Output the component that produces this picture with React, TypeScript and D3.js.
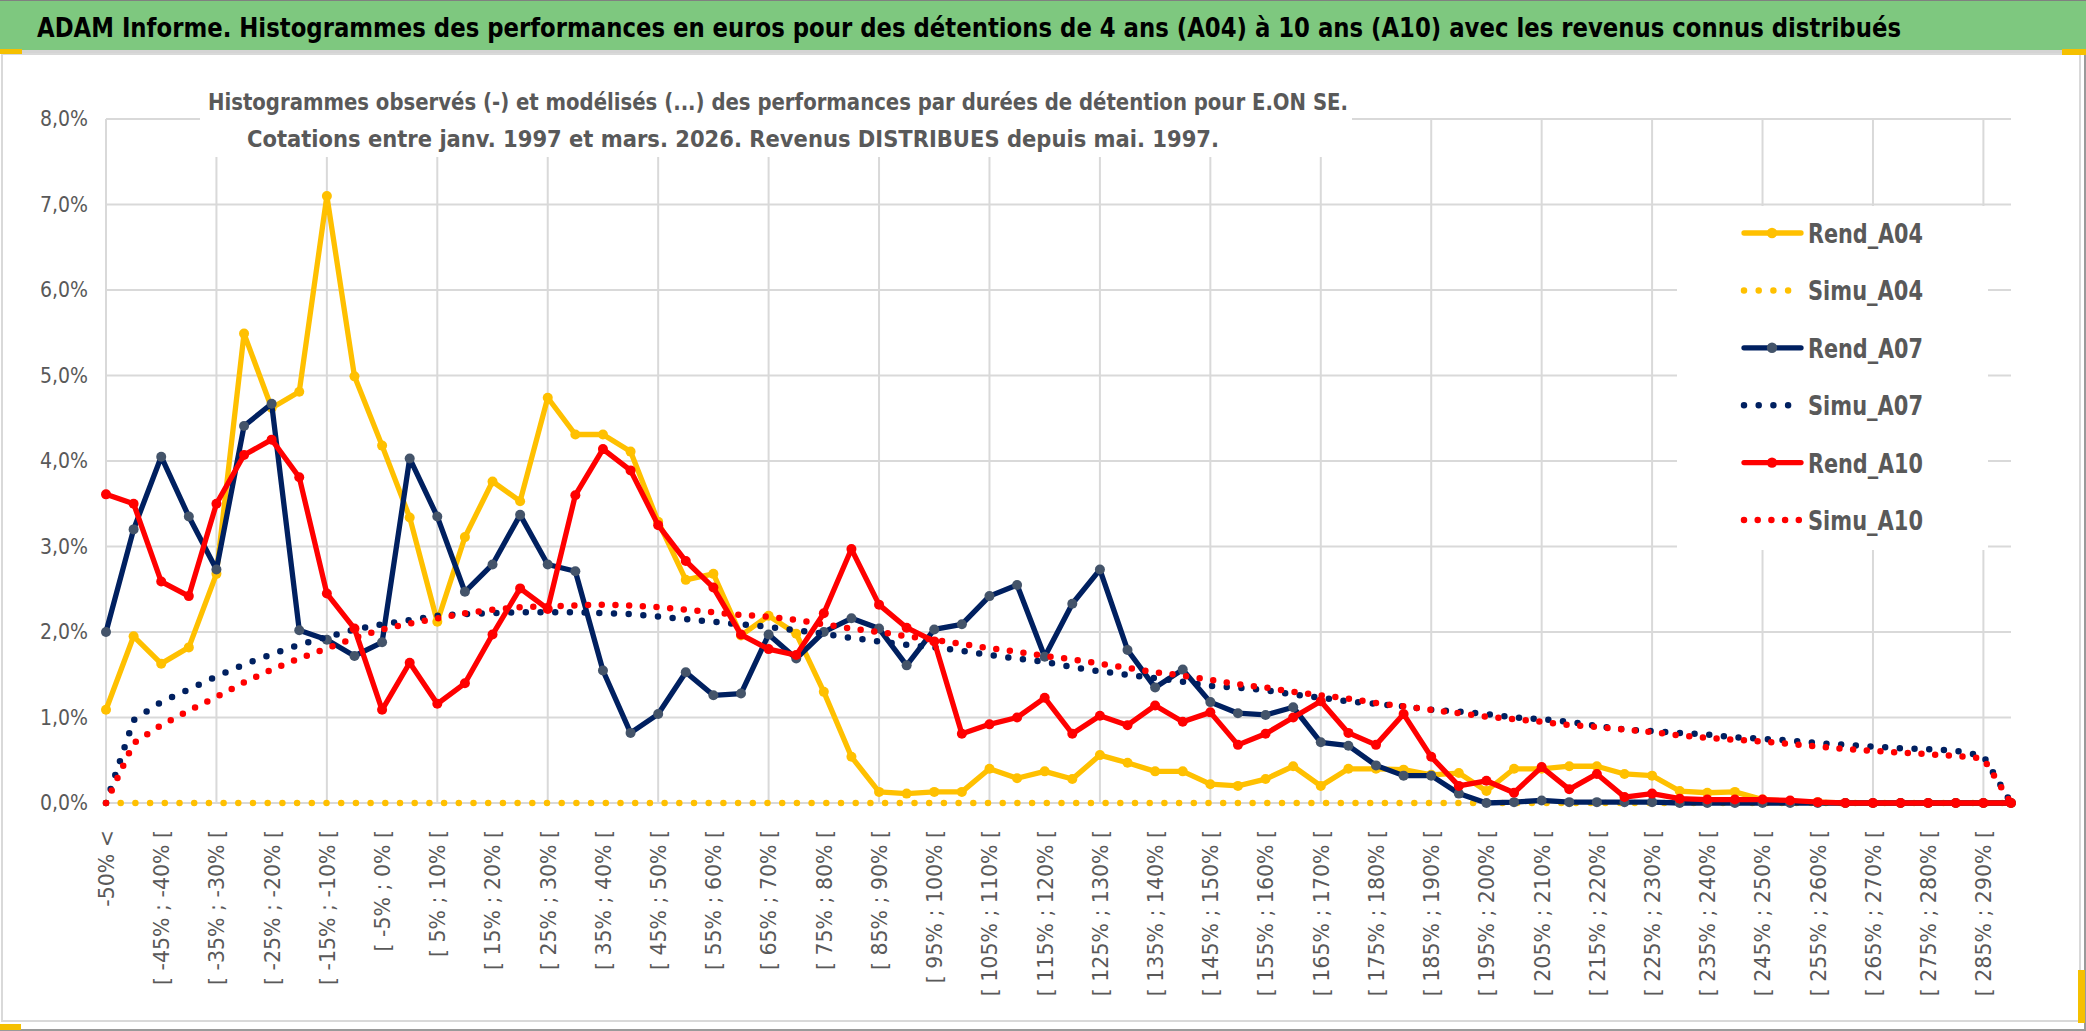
import React, { useRef, useEffect } from "react";
import * as d3 from "d3";

const categories = [
  "-50% <", "[ -50% ; -45% [", "[ -45% ; -40% [", "[ -40% ; -35% [", "[ -35% ; -30% [",
  "[ -30% ; -25% [", "[ -25% ; -20% [", "[ -20% ; -15% [", "[ -15% ; -10% [", "[ -10% ; -5% [",
  "[ -5% ; 0% [", "[ 0% ; 5% [", "[ 5% ; 10% [", "[ 10% ; 15% [", "[ 15% ; 20% [",
  "[ 20% ; 25% [", "[ 25% ; 30% [", "[ 30% ; 35% [", "[ 35% ; 40% [", "[ 40% ; 45% [",
  "[ 45% ; 50% [", "[ 50% ; 55% [", "[ 55% ; 60% [", "[ 60% ; 65% [", "[ 65% ; 70% [",
  "[ 70% ; 75% [", "[ 75% ; 80% [", "[ 80% ; 85% [", "[ 85% ; 90% [", "[ 90% ; 95% [",
  "[ 95% ; 100% [", "[ 100% ; 105% [", "[ 105% ; 110% [", "[ 110% ; 115% [", "[ 115% ; 120% [",
  "[ 120% ; 125% [", "[ 125% ; 130% [", "[ 130% ; 135% [", "[ 135% ; 140% [", "[ 140% ; 145% [",
  "[ 145% ; 150% [", "[ 150% ; 155% [", "[ 155% ; 160% [", "[ 160% ; 165% [", "[ 165% ; 170% [",
  "[ 170% ; 175% [", "[ 175% ; 180% [", "[ 180% ; 185% [", "[ 185% ; 190% [", "[ 190% ; 195% [",
  "[ 195% ; 200% [", "[ 200% ; 205% [", "[ 205% ; 210% [", "[ 210% ; 215% [", "[ 215% ; 220% [",
  "[ 220% ; 225% [", "[ 225% ; 230% [", "[ 230% ; 235% [", "[ 235% ; 240% [", "[ 240% ; 245% [",
  "[ 245% ; 250% [", "[ 250% ; 255% [", "[ 255% ; 260% [", "[ 260% ; 265% [", "[ 265% ; 270% [",
  "[ 270% ; 275% [", "[ 275% ; 280% [", "[ 280% ; 285% [", "[ 285% ; 290% [", "[ 290% ; 295% [",
];

// values in %
const rendA04 = [
  1.09, 1.95, 1.63, 1.82, 2.68, 5.49, 4.62, 4.81, 7.1, 4.99,
  4.18, 3.34, 2.12, 3.11, 3.76, 3.53, 4.74, 4.31, 4.31, 4.11,
  3.29, 2.61, 2.68, 1.96, 2.19, 1.98, 1.3, 0.54, 0.13, 0.11,
  0.13, 0.13, 0.4, 0.29, 0.37, 0.28, 0.56, 0.47, 0.37, 0.37,
  0.22, 0.2, 0.28, 0.43, 0.2, 0.4, 0.4, 0.39, 0.33, 0.35,
  0.14, 0.4, 0.4, 0.43, 0.43, 0.34, 0.32, 0.14, 0.12, 0.13,
  0.04, 0.02, 0.01, 0, 0, 0, 0, 0, 0, 0,
];
const simuA04 = [
  0, 0, 0, 0, 0, 0, 0, 0, 0, 0,
  0, 0, 0, 0, 0, 0, 0, 0, 0, 0,
  0, 0, 0, 0, 0, 0, 0, 0, 0, 0,
  0, 0, 0, 0, 0, 0, 0, 0, 0, 0,
  0, 0, 0, 0, 0, 0, 0, 0, 0, 0,
  0, 0, 0, 0, 0, 0, 0, 0, 0, 0,
  0, 0, 0, 0, 0, 0, 0, 0, 0, 0,
];
const rendA07 = [
  2.0, 3.2, 4.05, 3.35, 2.73, 4.41, 4.67, 2.02, 1.91, 1.72,
  1.88, 4.03, 3.35, 2.47, 2.79, 3.37, 2.79, 2.71, 1.55, 0.82,
  1.04, 1.53, 1.26, 1.28, 1.97, 1.69, 2.0, 2.16, 2.04, 1.61,
  2.03, 2.09, 2.42, 2.55, 1.71, 2.33, 2.73, 1.79, 1.35, 1.56,
  1.18, 1.05, 1.03, 1.12, 0.71, 0.67, 0.44, 0.32, 0.32, 0.11,
  0.0, 0.01, 0.03, 0.01, 0.01, 0.01, 0.01, 0, 0, 0,
  0, 0, 0, 0, 0, 0, 0, 0, 0, 0,
];
const simuA07 = [
  0, 0.97, 1.18, 1.33, 1.48, 1.62, 1.74, 1.85, 1.94, 2.03,
  2.09, 2.14, 2.19, 2.21, 2.22, 2.23, 2.23, 2.23, 2.22, 2.21,
  2.18, 2.15, 2.12, 2.09, 2.06, 2.02, 1.98, 1.93, 1.89, 1.85,
  1.82, 1.78, 1.73, 1.69, 1.65, 1.59, 1.54, 1.5, 1.46, 1.42,
  1.37, 1.35, 1.32, 1.27, 1.23, 1.19, 1.16, 1.13, 1.09, 1.07,
  1.04, 1.0, 0.98, 0.95, 0.9, 0.86, 0.84, 0.82, 0.8, 0.77,
  0.75, 0.73, 0.7, 0.68, 0.66, 0.64, 0.63, 0.61, 0.55, 0,
];
const rendA10 = [
  3.61, 3.5, 2.59, 2.42, 3.5, 4.07, 4.25, 3.81, 2.45, 2.04,
  1.09, 1.64, 1.16, 1.4, 1.97, 2.51, 2.27, 3.6, 4.14, 3.89,
  3.25, 2.83, 2.52, 1.97, 1.8, 1.73, 2.22, 2.97, 2.32, 2.05,
  1.89, 0.81, 0.92, 1.0, 1.23, 0.81, 1.02, 0.91, 1.14, 0.95,
  1.06, 0.68, 0.81, 1.0, 1.19, 0.82, 0.68, 1.04, 0.54, 0.2,
  0.26, 0.12, 0.42, 0.16, 0.34, 0.07, 0.11, 0.05, 0.04, 0.04,
  0.04, 0.03, 0.01, 0, 0, 0, 0, 0, 0, 0,
];
const simuA10 = [
  0, 0.7, 0.91, 1.08, 1.24, 1.41, 1.56, 1.69, 1.81, 1.93,
  2.03, 2.1, 2.16, 2.22, 2.26, 2.29, 2.3, 2.31, 2.32, 2.31,
  2.29, 2.26, 2.23, 2.2, 2.18, 2.14, 2.09, 2.04, 2.0, 1.95,
  1.91, 1.86, 1.81, 1.77, 1.72, 1.68, 1.63, 1.58, 1.53, 1.49,
  1.44, 1.39, 1.35, 1.3, 1.26, 1.22, 1.17, 1.13, 1.09, 1.05,
  1.01, 0.98, 0.95, 0.91, 0.89, 0.86, 0.83, 0.79, 0.76, 0.74,
  0.72, 0.69, 0.66, 0.63, 0.61, 0.59, 0.57, 0.55, 0.52, 0,
];

const seriesNames = ["Rend_A04", "Simu_A04", "Rend_A07", "Simu_A07", "Rend_A10", "Simu_A10"];
const yTicks = [0, 1, 2, 3, 4, 5, 6, 7, 8];

const title =
  "ADAM Informe. Histogrammes des performances en euros pour des détentions de 4 ans (A04) à 10 ans (A10) avec les revenus connus distribués";
const subtitle = [
  "Histogrammes observés (-) et modélisés (...) des performances par durées de détention pour E.ON SE.",
  "Cotations entre janv. 1997 et mars. 2026. Revenus DISTRIBUES depuis mai. 1997.",
];

const W = 2086;
const H = 1031;
const NARROW = "'Liberation Sans Narrow', 'DejaVu Sans Condensed', 'Liberation Sans', sans-serif";
const WIDE = "'DejaVu Sans', Verdana, sans-serif";
const GRID = "#d9d9d9";
const TXT = "#595959";

const App = () => {
  const ref = useRef(null);

  useEffect(() => {
    const svg = d3.select(ref.current);
    svg.selectAll("*").remove();

    const x = d3.scalePoint().domain(categories).range([106, 2011]);
    const y = d3.scaleLinear().domain([0, 8]).range([803, 119]);

    // frame
    svg.append("rect").attr("width", W).attr("height", H).attr("fill", "#fff");
    svg.append("rect").attr("x", 0).attr("y", 0).attr("width", W).attr("height", 50).attr("fill", "#7ec87f");
    svg.append("line").attr("x1", 0).attr("x2", W).attr("y1", 0.5).attr("y2", 0.5).attr("stroke", "#808080");
    svg.append("line").attr("x1", 0).attr("x2", W).attr("y1", 51.5).attr("y2", 51.5).attr("stroke", "#d4d4d4").attr("stroke-width", 3);
    svg
      .append("rect")
      .attr("x", 2)
      .attr("y", 54)
      .attr("width", 2078)
      .attr("height", 967)
      .attr("fill", "none")
      .attr("stroke", GRID)
      .attr("stroke-width", 2);
    svg.append("line").attr("x1", 2085).attr("x2", 2085).attr("y1", 50).attr("y2", H).attr("stroke", "#9a9a9a").attr("stroke-width", 2);
    svg.append("line").attr("x1", 0).attr("x2", W).attr("y1", 1030).attr("y2", 1030).attr("stroke", "#9a9a9a").attr("stroke-width", 2);
    svg.append("rect").attr("x", 0).attr("y", 49).attr("width", 22).attr("height", 5).attr("fill", "#f5c000");
    svg.append("rect").attr("x", 2062).attr("y", 49).attr("width", 24).attr("height", 6).attr("fill", "#f5c000");
    svg.append("rect").attr("x", 0).attr("y", 1024).attr("width", 21).attr("height", 6).attr("fill", "#f5c000");
    svg.append("rect").attr("x", 2078).attr("y", 970).attr("width", 7).attr("height", 53).attr("fill", "#f5c000");

    svg
      .append("text")
      .attr("x", 37)
      .attr("y", 37)
      .attr("font-family", NARROW)
      .attr("font-weight", "bold")
      .attr("font-size", 26)
      .attr("fill", "#000")
      .attr("textLength", 1864)
      .attr("lengthAdjust", "spacingAndGlyphs")
      .text(title);

    // gridlines
    const grid = svg.append("g");
    grid
      .selectAll("line.h")
      .data(yTicks)
      .join("line")
      .attr("x1", 106)
      .attr("x2", 2011)
      .attr("y1", (d) => y(d))
      .attr("y2", (d) => y(d))
      .attr("stroke", GRID)
      .attr("stroke-width", 2);
    grid
      .selectAll("line.v")
      .data(categories.filter((_, i) => i % 4 === 0))
      .join("line")
      .attr("x1", (d) => x(d))
      .attr("x2", (d) => x(d))
      .attr("y1", y(8))
      .attr("y2", y(0))
      .attr("stroke", GRID)
      .attr("stroke-width", 2);

    // chart title box
    svg.append("rect").attr("x", 200).attr("y", 58).attr("width", 1152).attr("height", 99).attr("fill", "#fff");
    svg
      .selectAll("text.sub")
      .data(subtitle)
      .join("text")
      .attr("x", (d, i) => (i === 0 ? 208 : 247))
      .attr("y", (d, i) => (i === 0 ? 110 : 147))
      .attr("font-family", NARROW)
      .attr("font-weight", "bold")
      .attr("font-size", 23.5)
      .attr("fill", TXT)
      .attr("textLength", (d, i) => (i === 0 ? 1140 : 972))
      .attr("lengthAdjust", "spacingAndGlyphs")
      .text((d) => d);

    // axes
    const yAxis = d3
      .axisLeft(y)
      .tickValues(yTicks)
      .tickSize(0)
      .tickPadding(0)
      .tickFormat((d) => d3.format(".1f")(d).replace(".", ",") + "%");
    const yG = svg.append("g").attr("transform", "translate(88,0)").call(yAxis);
    yG.select(".domain").remove();
    yG.selectAll("text").attr("font-family", NARROW).attr("font-size", 21).attr("fill", TXT);

    const xAxis = d3
      .axisBottom(x)
      .tickValues(categories.filter((_, i) => i % 2 === 0))
      .tickSize(0);
    const xG = svg.append("g").attr("transform", `translate(0,${y(0)})`).call(xAxis);
    xG.select(".domain").remove();
    xG.selectAll("text")
      .attr("transform", "rotate(-90)")
      .attr("x", -27)
      .attr("y", 0)
      .attr("dy", "0.36em")
      .attr("text-anchor", "end")
      .attr("font-family", WIDE)
      .attr("font-size", 20.5)
      .attr("fill", TXT);

    // legend box
    svg.append("rect").attr("x", 1677).attr("y", 206).attr("width", 311).attr("height", 344).attr("fill", "#fff");

    const series = [
      { name: seriesNames[0], values: rendA04, color: "#ffc000", marker: "#ffc000", dotted: false, gap: 0 },
      { name: seriesNames[1], values: simuA04, color: "#ffc000", marker: null, dotted: true, gap: 14.7 },
      { name: seriesNames[2], values: rendA07, color: "#002060", marker: "#44546a", dotted: false, gap: 0 },
      { name: seriesNames[3], values: simuA07, color: "#002060", marker: null, dotted: true, gap: 14.7 },
      { name: seriesNames[4], values: rendA10, color: "#ff0000", marker: "#ff0000", dotted: false, gap: 0 },
      { name: seriesNames[5], values: simuA10, color: "#ff0000", marker: null, dotted: true, gap: 13.7 },
    ];

    const line = d3
      .line<number>()
      .x((d, i) => x(categories[i]))
      .y((d) => y(d));

    const plotG = svg.append("g");
    series.forEach((s) => {
      const g = plotG.append("g");
      g.append("path")
        .attr("d", line(s.values))
        .attr("fill", "none")
        .attr("stroke", s.color)
        .attr("stroke-width", s.dotted ? 6.5 : 5.3)
        .attr("stroke-linejoin", "round")
        .attr("stroke-linecap", "round")
        .attr("stroke-dasharray", s.dotted ? `0 ${s.gap}` : null);
      if (s.marker) {
        g.selectAll("circle")
          .data(s.values)
          .join("circle")
          .attr("cx", (d, i) => x(categories[i]))
          .attr("cy", (d) => y(d))
          .attr("r", 5)
          .attr("fill", s.marker);
      }
    });

    // legend
    const leg = svg.append("g");
    series.forEach((s, i) => {
      const cy = 233 + i * 57.4;
      if (s.dotted) {
        leg.append("line")
          .attr("x1", 1744)
          .attr("x2", s.gap < 14 ? 1800 : 1789)
          .attr("y1", cy)
          .attr("y2", cy)
          .attr("stroke", s.color)
          .attr("stroke-width", 6.5)
          .attr("stroke-linecap", "round")
          .attr("stroke-dasharray", `0 ${s.gap}`);
      } else {
        leg.append("line")
          .attr("x1", 1744)
          .attr("x2", 1801)
          .attr("y1", cy)
          .attr("y2", cy)
          .attr("stroke", s.color)
          .attr("stroke-width", 5.3)
          .attr("stroke-linecap", "round");
        leg.append("circle").attr("cx", 1772).attr("cy", cy).attr("r", 5.2).attr("fill", s.marker);
      }
      leg.append("text")
        .attr("x", 1808)
        .attr("y", cy + 10)
        .attr("font-family", NARROW)
        .attr("font-weight", "bold")
        .attr("font-size", 27)
        .attr("fill", TXT)
        .attr("textLength", 115)
        .attr("lengthAdjust", "spacingAndGlyphs")
        .text(s.name);
    });

    return () => undefined;
  }, []);

  return (
    <svg
      ref={ref}
      width={W}
      height={H}
      style={{ position: "absolute", left: 0, top: 0, display: "block" }}
    />
  );
};

export default App;
